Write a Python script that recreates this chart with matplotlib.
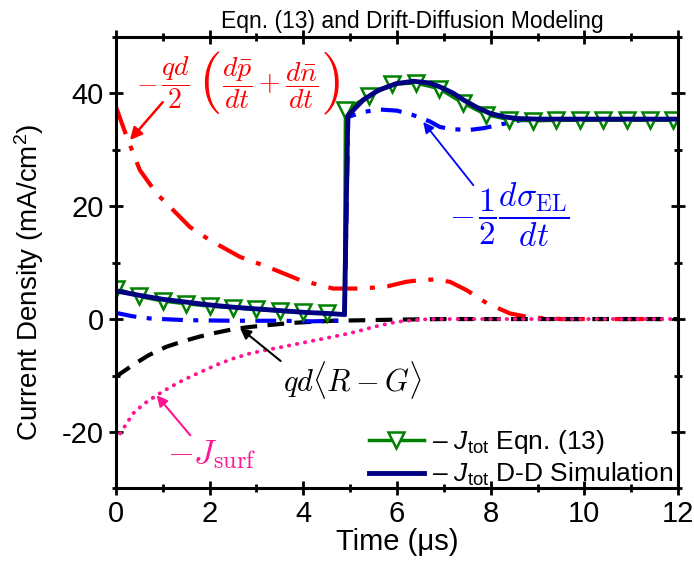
import numpy as np
import matplotlib
matplotlib.use('Agg')
import matplotlib.pyplot as plt
from matplotlib.ticker import MultipleLocator

plt.rcParams['font.family'] = ['Liberation Sans', 'DejaVu Sans']
plt.rcParams['mathtext.fontset'] = 'custom'
plt.rcParams['mathtext.rm'] = 'Liberation Sans'
plt.rcParams['mathtext.it'] = 'Liberation Sans:italic'
plt.rcParams['axes.unicode_minus'] = False

# -J_tot from Eqn. (13) (markers)
eqn_t = [0, 0.5, 1.0, 1.5, 2.0, 2.5, 3.0, 3.5, 4.0, 4.5, 4.88,
         4.9, 5.4, 5.9, 6.4, 6.9, 7.4, 7.9, 8.4, 8.9, 9.4,
         9.9, 10.4, 10.9, 11.4, 11.9]
eqn_j = [5.4, 4.0, 3.2, 2.7, 2.3, 2.0, 1.7, 1.4, 1.2, 1.0, 0.9,
         37.0, 39.5, 41.6, 41.8, 40.8, 38.3, 36.2, 35.3, 35.1, 35.2,
         35.2, 35.2, 35.2, 35.2, 35.2]
eqn_marks = [i for i in range(len(eqn_t)) if i != 10]

# -J_tot drift-diffusion simulation
dd_t = [0, 0.5, 1.0, 1.5, 2.0, 2.5, 3.0, 3.5, 4.0, 4.5, 4.88,
        4.95, 5.28, 5.6, 5.99, 6.35, 6.7, 6.92, 7.2, 7.42, 7.7, 7.99,
        8.3, 8.56, 9.0, 10.0, 11.0, 12.0]
dd_j = [5.0, 4.2, 3.5, 3.0, 2.5, 2.1, 1.8, 1.5, 1.2, 1.0, 0.8,
        36.0, 38.8, 40.5, 41.7, 42.1, 41.8, 41.1, 40.0, 38.8, 37.5, 36.4,
        35.8, 35.5, 35.4, 35.4, 35.4, 35.4]

# -1/2 dsigma_EL/dt
sig_t = [0, 0.35, 0.73, 1.5, 2.5, 3.5, 4.2, 4.7, 4.88,
         4.96, 5.3, 5.64, 6.0, 6.35, 6.7, 6.92, 7.2, 7.56, 7.85, 8.13, 8.4,
         8.63, 9.0, 10.0, 11.0, 12.0]
sig_j = [1.1, 0.5, 0.1, -0.2, -0.3, -0.3, -0.4, -0.3, -0.3,
         35.8, 36.7, 37.1, 36.9, 36.1, 35.0, 34.0, 33.6, 33.5, 33.8, 34.3, 34.8,
         35.2, 35.4, 35.4, 35.4, 35.4]

# -qd/2 (dp/dt + dn/dt)
pn_t = [0, 0.23, 0.51, 0.87, 1.15, 1.58, 2.0, 2.65, 3.22, 3.93, 4.64,
        5.28, 5.8, 6.2, 6.5, 6.78, 7.13, 7.49, 7.92, 8.41, 8.84, 9.5, 10.5, 12.0]
pn_j = [37.6, 32.3, 26.4, 22.2, 19.9, 16.3, 14.0, 11.0, 9.3, 6.9, 5.4,
        5.4, 5.8, 6.6, 6.9, 7.0, 6.6, 5.1, 2.8, 1.0, 0.3, 0.0, 0.0, 0.0]

# qd<R-G>
rg_t = [0, 0.37, 0.7, 1.08, 1.45, 1.79, 2.15, 2.5, 2.86, 3.22, 3.6, 3.93,
        4.3, 4.64, 5.0, 5.35, 6.0, 7.0, 8.0, 12.0]
rg_j = [-10.2, -8.1, -6.4, -4.9, -3.9, -3.1, -2.4, -1.8, -1.4, -1.1, -0.8, -0.6,
        -0.45, -0.3, -0.25, -0.2, -0.1, 0.0, 0.0, 0.0]

# -J_surf
surf_t = [0, 0.15, 0.37, 0.6, 0.87, 1.15, 1.44, 1.8, 2.15, 2.5, 2.86, 3.2,
          3.57, 3.93, 4.29, 4.6, 5.0, 5.28, 5.6, 5.99, 6.35, 6.7, 7.5, 12.0]
surf_j = [-21.5, -19.5, -16.7, -15.0, -13.5, -12.1, -10.8, -9.4, -8.1, -7.0, -6.1, -5.5,
          -4.9, -4.3, -3.7, -3.2, -2.5, -1.9, -1.2, -0.5, -0.2, 0.0, 0.0, 0.0]

fig = plt.figure(figsize=(6.94, 5.73), dpi=100)
ax = fig.add_axes([0.167, 0.1475, 0.81, 0.7885])

ax.plot(pn_t, pn_j, color='#ff0000', lw=3, dashes=(7, 3, 1.2, 3))
ax.plot(rg_t, rg_j, color='black', lw=3, dashes=(4, 2.5))
ax.plot(surf_t, surf_j, color='#ff1493', lw=2.8, linestyle=(0, (0.1, 2.0)),
        dash_capstyle='round')
ax.plot(sig_t, sig_j, color='#0000ff', lw=3, dashes=(5, 2.5, 1.2, 2.5))
l1, = ax.plot(eqn_t, eqn_j, color='#008000', lw=2.5, marker='v', ms=11,
              mfc='white', mec='#008000', mew=1.8, markevery=eqn_marks,
              label='\u2013 $J_{\\mathrm{tot}}$ Eqn. (13)')
l2, = ax.plot(dd_t, dd_j, color='#000080', lw=3.5,
              label='\u2013 $J_{\\mathrm{tot}}$ D-D Simulation')

ax.set_xlim(0, 12)
ax.set_ylim(-30, 50)
ax.xaxis.set_major_locator(MultipleLocator(2))
ax.xaxis.set_minor_locator(MultipleLocator(1))
ax.yaxis.set_major_locator(MultipleLocator(20))
ax.yaxis.set_minor_locator(MultipleLocator(10))
ax.tick_params(which='both', direction='inout', width=2, labelsize=21,
               top=True, right=True)
ax.tick_params(which='major', length=10)
ax.tick_params(which='minor', length=6)
for s in ax.spines.values():
    s.set_linewidth(2.2)

ax.set_xlabel('Time (\u03bcs)', fontsize=21, labelpad=0)
ax.set_ylabel('Current Density (mA/cm$^2$)', fontsize=20)
ax.yaxis.set_label_coords(-0.125, 0.457)
ax.set_title('Eqn. (13) and Drift-Diffusion Modeling', fontsize=16.5, pad=6,
             x=0.528)

ax.legend(handles=[l1, l2], loc='lower right', frameon=False, fontsize=19,
          handlelength=2.1, handletextpad=0.3, borderaxespad=0.2,
          labelspacing=0.2, bbox_to_anchor=(1.02, -0.035))

cm = dict(math_fontfamily='cm')
red = '#ff0000'
blue = '#0000ff'
# red label built from pieces so the fractions keep display size
ax.text(0.66, 41.8, r'$-$', color=red, fontsize=20, ha='center', va='center', **cm)
ax.text(1.28, 41.8, r'$\dfrac{qd}{2}$', color=red, fontsize=20,
        ha='center', va='center', **cm)
ax.text(2.0, 41.8, r'$($', color=red, fontsize=44, ha='center', va='center', **cm)
ax.text(3.29, 41.8, r'$\dfrac{d\bar{p}}{dt}+\dfrac{d\bar{n}}{dt}$', color=red,
        fontsize=20, ha='center', va='center', **cm)
ax.text(4.57, 41.8, r'$)$', color=red, fontsize=44, ha='center', va='center', **cm)
ax.annotate('', xy=(0.3, 31.7), xytext=(1.0, 38.4),
            arrowprops=dict(arrowstyle='-|>', color=red, lw=1.8,
                            shrinkA=0, shrinkB=0, mutation_scale=18))

ax.text(7.37, 18.4, r'$-$', color=blue, fontsize=24, ha='center', va='center', **cm)
ax.text(8.7, 18.4, r'$\dfrac{1}{2}\dfrac{d\sigma_{\mathrm{EL}}}{dt}$', color=blue,
        fontsize=24, ha='center', va='center', **cm)
ax.annotate('', xy=(6.56, 34.9), xytext=(7.63, 23.7),
            arrowprops=dict(arrowstyle='-|>', color=blue, lw=1.3,
                            shrinkA=0, shrinkB=0, mutation_scale=16))

ax.annotate(r'$qd\langle R-G\rangle$',
            xy=(2.65, -1.6), xytext=(5.06, -10.8), color='black', fontsize=22,
            ha='center', va='center', **cm,
            arrowprops=dict(arrowstyle='-|>', color='black', lw=1.5,
                            shrinkA=0, shrinkB=0, mutation_scale=16,
                            relpos=(0.0, 0.9)))
ax.annotate(r'$-J_{\mathrm{surf}}$',
            xy=(0.87, -13.5), xytext=(2.05, -24.0), color='#ff1493', fontsize=25,
            ha='center', va='center', **cm,
            arrowprops=dict(arrowstyle='-|>', color='#ff1493', lw=1.5,
                            shrinkA=0, shrinkB=0, mutation_scale=16,
                            relpos=(0.3, 0.95)))

fig.savefig('out.png', dpi=100)
